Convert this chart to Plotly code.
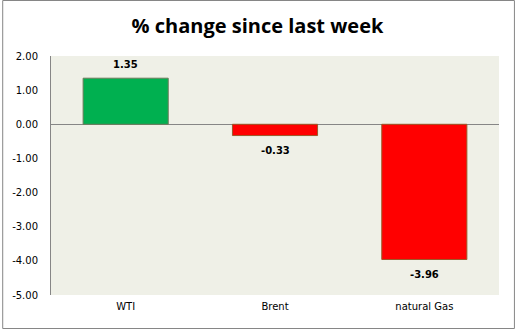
import plotly.graph_objects as go

categories = ["WTI", "Brent", "natural Gas"]
values = [1.35, -0.33, -3.96]
colors = ["#00B050", "#FF0000", "#FF0000"]
outline = ["#6b7b5b", "#9b5a2a", "#9b5a2a"]
labels = ["1.35", "-0.33", "-3.96"]
tick_vals = [2, 1, 0, -1, -2, -3, -4, -5]
tick_text = ["2.00", "1.00", "0.00", "-1.00", "-2.00", "-3.00", "-4.00", "-5.00"]

W, H = 515, 329
ml, mr, mt, mb = 49, 16, 56, 34
pw, ph = W - ml - mr, H - mt - mb

fig = go.Figure(go.Bar(
    x=categories, y=values,
    marker=dict(color=colors, line=dict(color=outline, width=1)),
    width=0.57,
))

for c, v, t in zip(categories, values, labels):
    fig.add_annotation(x=c, y=v, text="<b>" + t + "</b>", showarrow=False,
                       yshift=14 if v >= 0 else -15,
                       font=dict(family="DejaVu Sans", size=10, color="#000000"))

fig.update_layout(
    width=W, height=H,
    margin=dict(l=ml, r=mr, t=mt, b=mb),
    paper_bgcolor="white", plot_bgcolor="#EFF0E7",
    showlegend=False,
    title=dict(text="<b>% change since last week</b>", x=0.5, xanchor="center",
               y=1 - 26 / H, yanchor="middle",
               font=dict(family="Open Sans", size=20, color="#000000")),
    xaxis=dict(showgrid=False, showline=False, ticks="",
               tickfont=dict(family="DejaVu Sans", size=10, color="#000000"),
               ticklabelstandoff=4),
    yaxis=dict(range=[-5, 2], tickvals=tick_vals, ticktext=tick_text,
               showgrid=False, showline=True, linecolor="#868686", linewidth=1,
               zeroline=True, zerolinecolor="#868686", zerolinewidth=1,
               ticks="", ticklabelstandoff=10,
               tickfont=dict(family="DejaVu Sans", size=10, color="#000000")),
    shapes=[dict(type="rect", xref="paper", yref="paper",
                 x0=(0.5 - ml) / pw, x1=(W - 0.5 - ml) / pw,
                 y0=(-(mb - 0.5)) / ph, y1=(H - mb - 0.5) / ph,
                 line=dict(color="#868686", width=1), fillcolor="rgba(0,0,0,0)",
                 layer="above")],
)

fig.write_html("out.html")
